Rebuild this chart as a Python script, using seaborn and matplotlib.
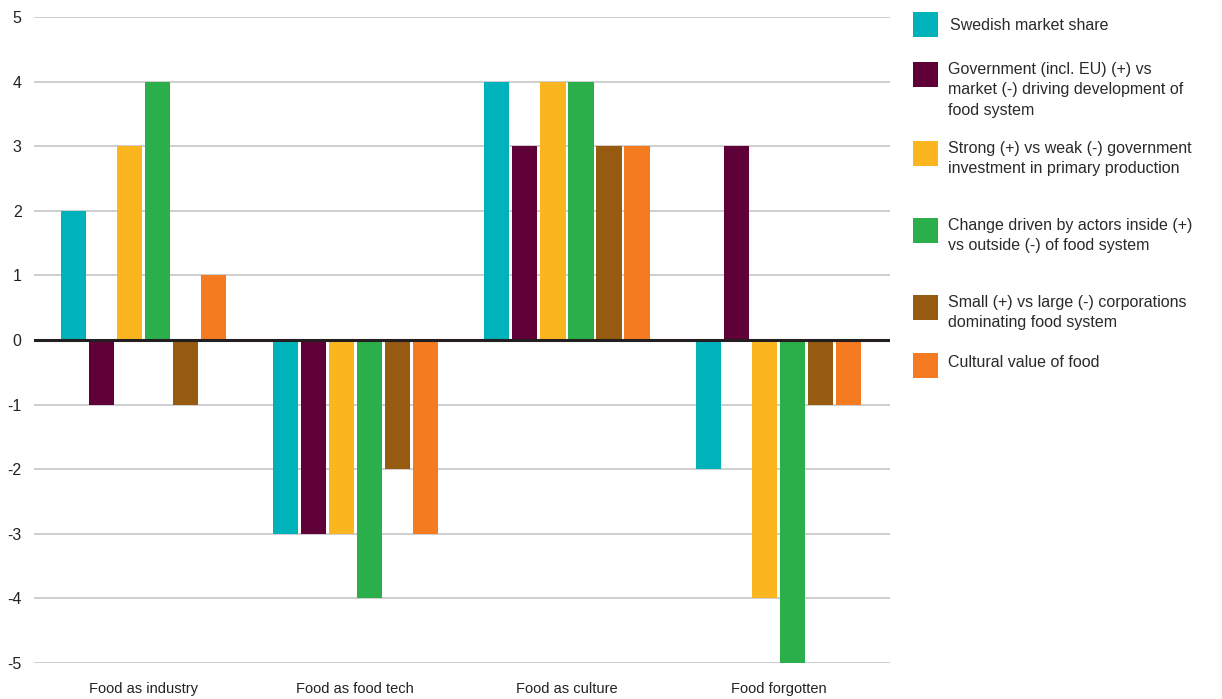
import matplotlib
matplotlib.use("Agg")
import matplotlib.pyplot as plt
from matplotlib.patches import Rectangle
import seaborn as sns
import pandas as pd

categories = ["Food as industry", "Food as food tech", "Food as culture", "Food forgotten"]
series = [
    "Swedish market share",
    "Government (incl. EU) (+) vs\nmarket (-) driving development of\nfood system",
    "Strong (+) vs weak (-) government\ninvestment in primary production",
    "Change driven by actors inside (+)\nvs outside (-) of food system",
    "Small (+) vs large (-) corporations\ndominating food system",
    "Cultural value of food",
]
swedish_market = [2, -3, 4, -2]
government_vs_market = [-1, -3, 3, 3]
strong_vs_weak = [3, -3, 4, -4]
inside_vs_outside = [4, -4, 4, -5]
small_vs_large = [-1, -2, 3, -1]
cultural_value = [1, -3, 3, -1]
colors = ["#00B2B9", "#5F0038", "#FBB61F", "#2BAF4A", "#965A10", "#F47B20"]
yticks = [-5, -4, -3, -2, -1, 0, 1, 2, 3, 4, 5]

all_values = [swedish_market, government_vs_market, strong_vs_weak,
              inside_vs_outside, small_vs_large, cultural_value]
rows = []
for s, vals in zip(series, all_values):
    for c, v in zip(categories, vals):
        rows.append({"category": c, "series": s, "value": v})
df = pd.DataFrame(rows)

sns.set_theme(style="white")
plt.rcParams["font.family"] = ["Liberation Sans", "DejaVu Sans"]

fig = plt.figure(figsize=(12.22, 6.99), dpi=100)
W, H = 1222, 699
ax = fig.add_axes([34 / W, 1 - 663 / H, (890 - 34) / W, (663 - 17) / H])

sns.barplot(data=df, x="category", y="value", hue="series", order=categories,
            hue_order=series, palette=colors, width=0.794, gap=0.1,
            saturation=1, legend=False, ax=ax, zorder=3, linewidth=0,
            edgecolor="none")

ax.set_ylim(-5, 5)
ax.set_xlim(-0.517, 3.526)
ax.set_yticks(yticks)
ax.set_yticklabels([str(t) for t in yticks])
ax.yaxis.grid(True, color="#c6c6c6", linewidth=1.2, zorder=0)
ax.xaxis.grid(False)
ax.set_axisbelow(True)
ax.axhline(0, color="#231f20", linewidth=2.2, zorder=4)
for sp in ax.spines.values():
    sp.set_visible(False)
ax.tick_params(axis="y", length=0, pad=9, labelsize=11.5, labelcolor="#222222")
ax.tick_params(axis="x", length=0, pad=14, labelsize=10.5, labelcolor="#222222")
ax.set_xlabel("")
ax.set_ylabel("")

# legend, drawn as squares and text in figure pixels
handle_tops = [12, 62, 141, 218, 295, 353]
text_tops = [18, 62, 141, 218, 295, 355]
text_x = [950, 948, 948, 948, 948, 948]
for col, lab, ht, tt, tx in zip(colors, series, handle_tops, text_tops, text_x):
    fig.add_artist(Rectangle((913 / W, 1 - (ht + 25) / H), 25 / W, 25 / H,
                             transform=fig.transFigure, facecolor=col,
                             edgecolor="none"))
    fig.text(tx / W, 1 - tt / H, lab, ha="left", va="top", fontsize=11.5,
             color="#2a2a2a", linespacing=1.45)

fig.savefig("out.png", dpi=100)
